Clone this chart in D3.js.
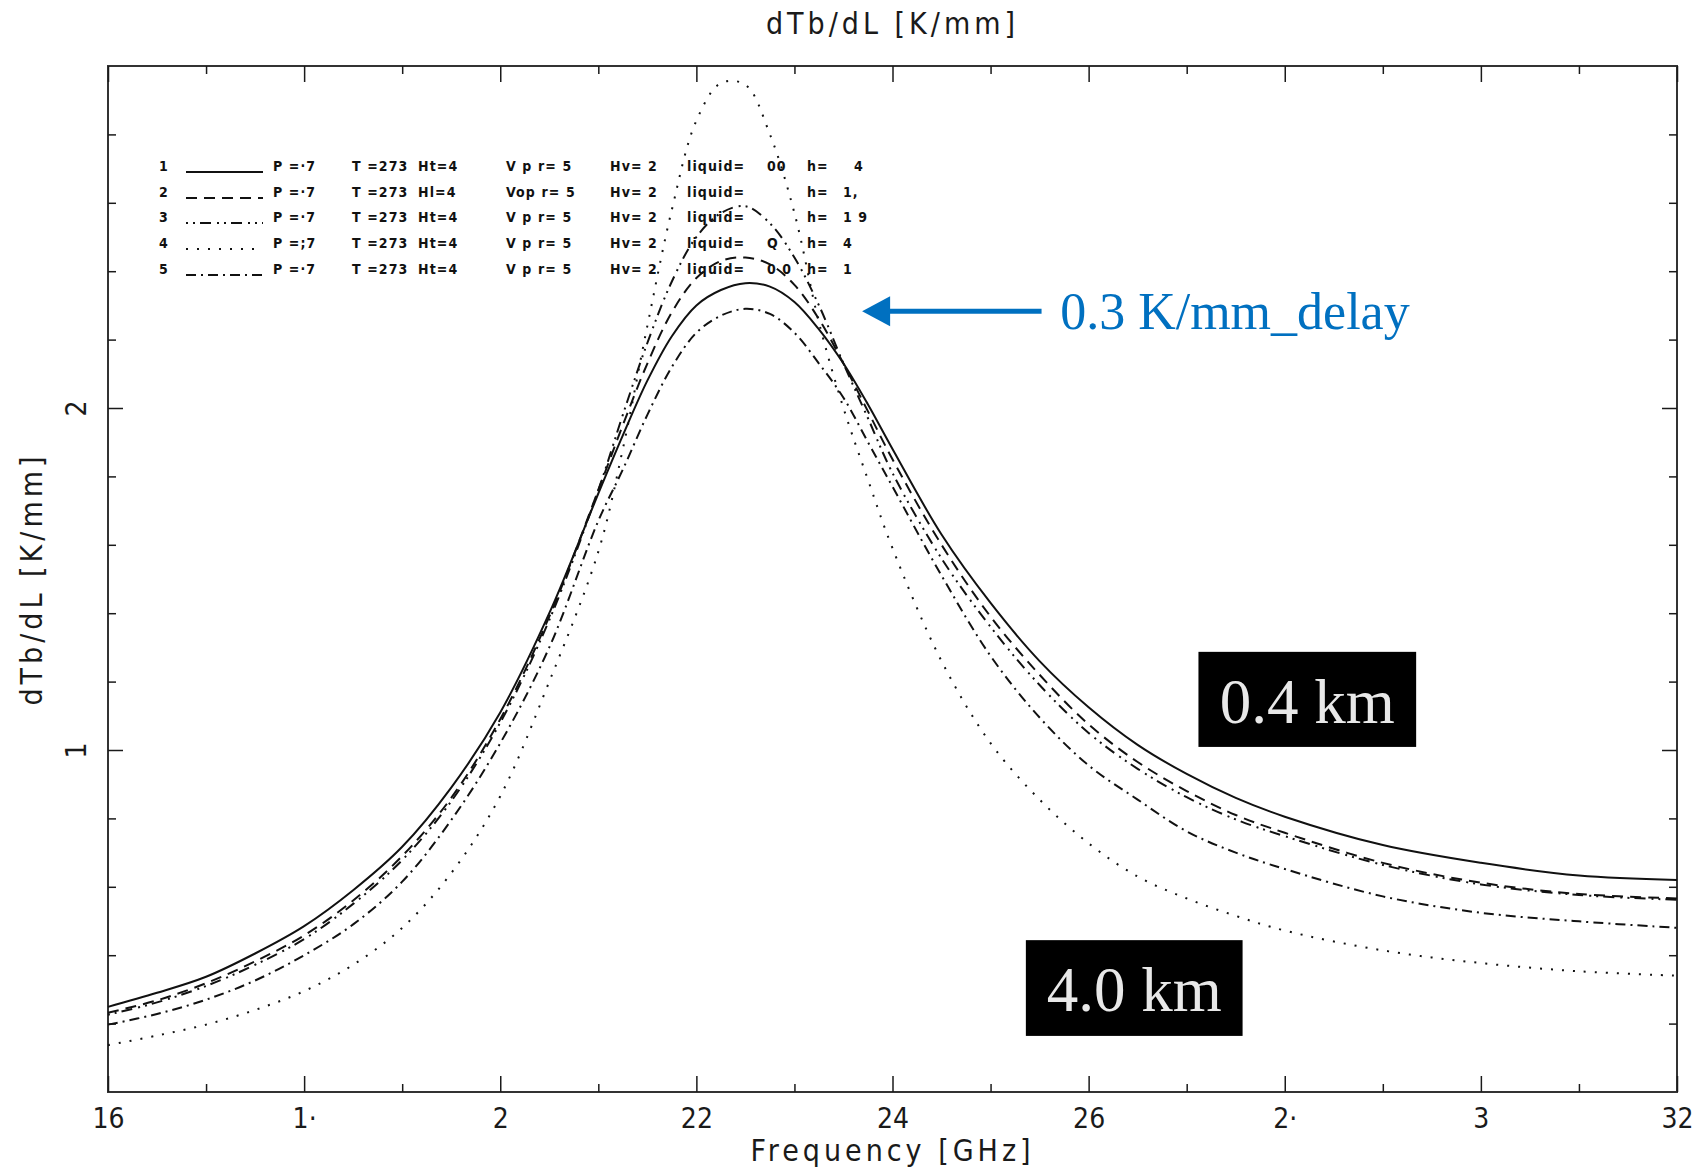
<!DOCTYPE html>
<html>
<head>
<meta charset="utf-8">
<script src="https://cdn.jsdelivr.net/npm/d3@7"></script>
<style>
  html, body { margin: 0; padding: 0; background: #fff; }
  svg { display: block; }
</style>
</head>
<body>
<script>
// frequency grid [GHz]
const freq = [16,16.5,17,17.5,18,18.5,19,19.5,20,20.5,21,21.25,21.5,21.75,22,22.25,22.5,22.75,23,23.25,23.5,23.75,24,24.5,25,25.5,26,26.5,27,27.5,28,29,30,31,32];

// dTb/dL [K/mm] for the 5 runs
const run1 = [0.249,0.29,0.337,0.405,0.485,0.59,0.717,0.89,1.11,1.40,1.75,1.92,2.08,2.21,2.30,2.345,2.365,2.355,2.31,2.23,2.13,2.01,1.88,1.63,1.43,1.26,1.125,1.015,0.93,0.86,0.805,0.722,0.67,0.633,0.62];
const run2 = [0.232,0.268,0.318,0.382,0.458,0.56,0.69,0.86,1.09,1.39,1.76,1.95,2.13,2.28,2.38,2.43,2.44,2.42,2.36,2.26,2.13,1.99,1.85,1.60,1.39,1.22,1.075,0.965,0.88,0.81,0.758,0.67,0.612,0.579,0.566];
const run3 = [0.226,0.262,0.31,0.372,0.447,0.55,0.678,0.85,1.08,1.38,1.76,1.98,2.19,2.37,2.50,2.57,2.59,2.54,2.44,2.30,2.13,1.97,1.81,1.56,1.36,1.19,1.05,0.945,0.862,0.797,0.748,0.664,0.607,0.576,0.562];
const run4 = [0.137,0.165,0.197,0.24,0.295,0.372,0.48,0.64,0.865,1.20,1.58,1.88,2.24,2.58,2.84,2.95,2.945,2.80,2.57,2.25,2.00,1.79,1.59,1.26,1.02,0.855,0.727,0.63,0.566,0.515,0.472,0.414,0.377,0.353,0.34];
const run5 = [0.197,0.228,0.27,0.326,0.40,0.49,0.615,0.795,1.02,1.30,1.67,1.82,1.98,2.12,2.22,2.27,2.29,2.275,2.22,2.13,2.03,1.90,1.77,1.51,1.275,1.095,0.955,0.855,0.762,0.70,0.652,0.572,0.524,0.499,0.48];

const runs = [run1, run2, run3, run4, run5];
const dashes = [null, "11,7", "2,5,2,5,11,6", "2,9", "10,5,2,5"];

// axes
const xTickVals = [16,18,20,22,24,26,28,30,32];
const xTickLabels = ["16","1·","2","22","24","26","2·","3","32"];
const xMinorVals = [17,19,21,23,25,27,29,31];
const yTickVals = [1,2];
const yTickLabels = ["1","2"];
const yMinorVals = [0.2,0.4,0.6,0.8,1.2,1.4,1.6,1.8,2.2,2.4,2.6,2.8];

// legend (text as printed on the plot)
const legendNums = ["1","2","3","4","5"];
const legendCells = [
  ["P =·7","T =273","Ht=4","V p r= 5","Hv= 2","liquid=","00","h=","  4"],
  ["P =·7","T =273","Hl=4","Vop r= 5","Hv= 2","liquid=","","h=","1,"],
  ["P =·7","T =273","Ht=4","V p r= 5","Hv= 2","liquid=","","h=","1 9"],
  ["P =;7","T =273","Ht=4","V p r= 5","Hv= 2","liquid=","Q","h=","4"],
  ["P =·7","T =273","Ht=4","V p r= 5","Hv= 2","liquid=","0 0","h=","1"]
];

const width = 1700, height = 1171;
const margin = {top: 66, right: 23, bottom: 79, left: 108};

const x = d3.scaleLinear().domain([16, 32]).range([margin.left, width - margin.right]);
const y = d3.scaleLinear().domain([0, 3]).range([height - margin.bottom, margin.top]);

const svg = d3.select("body").append("svg")
  .attr("width", width)
  .attr("height", height);

const axisFont = "'DejaVu Sans Condensed', 'DejaVu Sans', sans-serif";
const ink = "#1a1a1a";

// frame
svg.append("rect")
  .attr("x", margin.left).attr("y", margin.top)
  .attr("width", width - margin.left - margin.right)
  .attr("height", height - margin.top - margin.bottom)
  .attr("fill", "none").attr("stroke", "#333").attr("stroke-width", 2);

function styleAxis(g) {
  g.select(".domain").remove();
  g.selectAll(".tick line").attr("stroke", ink).attr("stroke-width", 1.5);
  g.selectAll("text").attr("font-family", axisFont).attr("font-size", 28).attr("fill", ink);
}

// bottom
svg.append("g").attr("transform", `translate(0,${y(0)})`)
  .call(d3.axisBottom(x).tickValues(xTickVals).tickSize(-16).tickPadding(16)
    .tickFormat((d, i) => xTickLabels[i]))
  .call(styleAxis);
svg.append("g").attr("transform", `translate(0,${y(0)})`)
  .call(d3.axisBottom(x).tickValues(xMinorVals).tickSize(-8).tickFormat(""))
  .call(styleAxis);
// top
svg.append("g").attr("transform", `translate(0,${y(3)})`)
  .call(d3.axisTop(x).tickValues(xTickVals).tickSize(-16).tickFormat(""))
  .call(styleAxis);
svg.append("g").attr("transform", `translate(0,${y(3)})`)
  .call(d3.axisTop(x).tickValues(xMinorVals).tickSize(-8).tickFormat(""))
  .call(styleAxis);
// left
const yl = svg.append("g").attr("transform", `translate(${x(16)},0)`)
  .call(d3.axisLeft(y).tickValues(yTickVals).tickSize(-15).tickPadding(0)
    .tickFormat((d, i) => yTickLabels[i]))
  .call(styleAxis);
yl.selectAll(".tick text")
  .attr("x", 0).attr("dy", null)
  .attr("text-anchor", "middle")
  .attr("transform", "translate(-32,0) rotate(-90)")
  .attr("dominant-baseline", "central");
svg.append("g").attr("transform", `translate(${x(16)},0)`)
  .call(d3.axisLeft(y).tickValues(yMinorVals).tickSize(-8).tickFormat(""))
  .call(styleAxis);
// right
svg.append("g").attr("transform", `translate(${x(32)},0)`)
  .call(d3.axisRight(y).tickValues(yTickVals).tickSize(-15).tickFormat(""))
  .call(styleAxis);
svg.append("g").attr("transform", `translate(${x(32)},0)`)
  .call(d3.axisRight(y).tickValues(yMinorVals).tickSize(-8).tickFormat(""))
  .call(styleAxis);

// axis titles
const titleStyle = t => t
  .attr("text-anchor", "middle")
  .attr("font-family", axisFont).attr("font-size", 30).attr("letter-spacing", 4)
  .attr("fill", ink);
svg.append("text").attr("x", x(24)).attr("y", 34)
  .call(titleStyle).text("dTb/dL [K/mm]");
svg.append("text").attr("x", x(24)).attr("y", 1161)
  .call(titleStyle).text("Frequency [GHz]");
svg.append("text")
  .attr("transform", `translate(42,${y(1.5)}) rotate(-90)`)
  .call(titleStyle).text("dTb/dL [K/mm]");

// curves
const line = d3.line()
  .x((d, i) => x(freq[i]))
  .y(d => y(d))
  .curve(d3.curveCatmullRom.alpha(0.5));

runs.forEach((r, k) => {
  svg.append("path")
    .attr("d", line(r))
    .attr("fill", "none")
    .attr("stroke", "#111")
    .attr("stroke-width", 2)
    .attr("stroke-dasharray", dashes[k]);
});

// legend
const legendX = {num: 159, lineStart: 186, lineEnd: 263};
const legendCols = [273, 352, 418, 506, 610, 687, 767, 807, 843];
const legendRowY = [166, 192, 217, 243, 269];
const lg = svg.append("g")
  .attr("font-family", axisFont).attr("font-size", 14).attr("font-weight", 600)
  .attr("letter-spacing", 1.1)
  .attr("fill", "#111");

legendNums.forEach((n, k) => {
  const yy = legendRowY[k];
  lg.append("text").attr("x", legendX.num).attr("y", yy + 5).text(n);
  lg.append("line")
    .attr("x1", legendX.lineStart).attr("x2", legendX.lineEnd)
    .attr("y1", yy + 6).attr("y2", yy + 6)
    .attr("stroke", "#111").attr("stroke-width", 2)
    .attr("stroke-dasharray", dashes[k]);
  legendCells[k].forEach((c, j) => {
    lg.append("text").attr("x", legendCols[j]).attr("y", yy + 5)
      .attr("xml:space", "preserve").text(c);
  });
});

// annotations
const blue = "#0070C0";
const arrowTip = {f: 23.69, v: 2.283};
const arrowTail = {f: 25.52};
svg.append("line")
  .attr("x1", x(arrowTip.f) + 24).attr("x2", x(arrowTail.f))
  .attr("y1", y(arrowTip.v)).attr("y2", y(arrowTip.v))
  .attr("stroke", blue).attr("stroke-width", 5);
svg.append("path")
  .attr("d", `M${x(arrowTip.f)},${y(arrowTip.v)} l28,-15 l0,30 Z`)
  .attr("fill", blue);
svg.append("text")
  .attr("x", x(25.71)).attr("y", y(2.23))
  .attr("font-family", "'Liberation Serif', 'Times New Roman', serif")
  .attr("font-size", 52)
  .attr("fill", blue)
  .text("0.3 K/mm_delay");

const boxes = [
  {label: "0.4 km", f0: 27.12, f1: 29.34, v0: 1.287, v1: 1.009, base: 1.079},
  {label: "4.0 km", f0: 25.36, f1: 27.57, v0: 0.444, v1: 0.164, base: 0.237}
];
boxes.forEach(b => {
  svg.append("rect")
    .attr("x", x(b.f0)).attr("y", y(b.v0))
    .attr("width", x(b.f1) - x(b.f0)).attr("height", y(b.v1) - y(b.v0))
    .attr("fill", "#000");
  svg.append("text")
    .attr("x", (x(b.f0) + x(b.f1)) / 2).attr("y", y(b.base))
    .attr("text-anchor", "middle")
    .attr("font-family", "'Liberation Serif', 'Times New Roman', serif")
    .attr("font-size", 63)
    .attr("fill", "#e8e8e8")
    .text(b.label);
});
</script>
</body>
</html>
